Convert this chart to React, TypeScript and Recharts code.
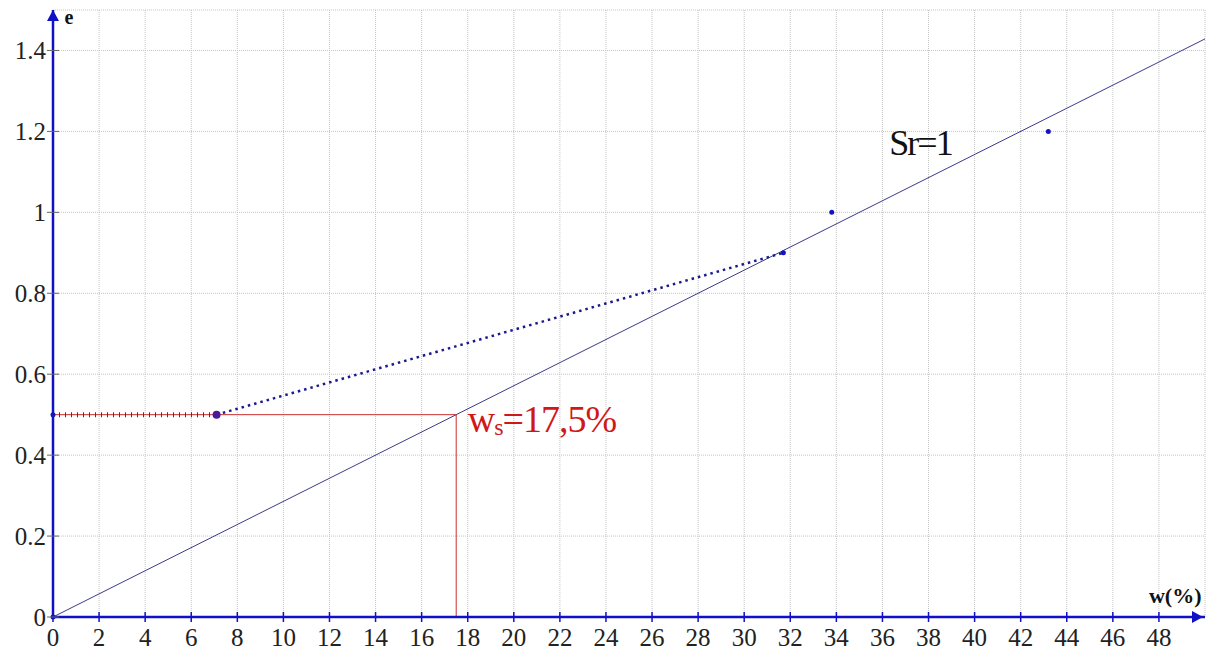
import React from "react";
import {
  ComposedChart,
  XAxis,
  YAxis,
  CartesianGrid,
  Line,
  Scatter,
  ReferenceDot,
} from "recharts";

// axis ticks
const xTicks = [0, 2, 4, 6, 8, 10, 12, 14, 16, 18, 20, 22, 24, 26, 28, 30, 32, 34, 36, 38, 40, 42, 44, 46, 48];
const yTicks = [0, 0.2, 0.4, 0.6, 0.8, 1, 1.2, 1.4];
const yTickLabels = ["0", "0.2", "0.4", "0.6", "0.8", "1", "1.2", "1.4"];

// saturation line Sr = 1
const saturationLine = [
  { x: 0, y: 0 },
  { x: 50, y: 1.4286 },
];

// dotted shrinkage curve
const shrinkCurve = [
  { x: 7.1, y: 0.5 },
  { x: 31.7, y: 0.9 },
];

// dotted part of the e = 0.5 level
const lowLevel = [
  { x: 0, y: 0.5 },
  { x: 7.1, y: 0.5 },
];

// red construction lines for ws
const wsHorizontal = [
  { x: 0, y: 0.5 },
  { x: 17.5, y: 0.5 },
];
const wsVertical = [
  { x: 17.5, y: 0.5 },
  { x: 17.5, y: 0 },
];

// measured points
const measured = [
  { x: 0, y: 0 },
  { x: 0, y: 0.5 },
  { x: 31.7, y: 0.9 },
  { x: 33.8, y: 1.0 },
  { x: 43.2, y: 1.2 },
];
const limitPoint = [{ x: 7.1, y: 0.5 }];

const arrowUp = [{ x: 0, y: 1.5 }];
const arrowRight = [{ x: 50, y: 0 }];

const serif = "'Liberation Serif', 'DejaVu Serif', serif";
const axisBlue = "#1010c8";

const XTick = (props: any) => {
  const { x, y, payload } = props;
  return (
    <g>
      <line x1={x} x2={x} y1={y - 5} y2={y + 5} stroke={axisBlue} strokeWidth={1.5} />
      <text x={x} y={y + 29} textAnchor="middle" fontFamily={serif} fontSize={25} fill="#222">
        {payload.value}
      </text>
    </g>
  );
};

const YTick = (props: any) => {
  const { x, y, payload, index } = props;
  return (
    <g>
      <line x1={x - 6} x2={x + 6} y1={y} y2={y} stroke="#666" strokeWidth={1} />
      <text x={x - 7} y={y + 9} textAnchor="end" fontFamily={serif} fontSize={25} fill="#222">
        {yTickLabels[index] ?? payload.value}
      </text>
    </g>
  );
};

const dot = (color: string, r: number) => (props: any) =>
  <circle cx={props.cx} cy={props.cy} r={r} fill={color} />;

const upTriangle = (props: any) => {
  const { cx, cy } = props;
  return <polygon points={`${cx},${cy} ${cx - 6},${cy + 11} ${cx + 6},${cy + 11}`} fill={axisBlue} />;
};

const rightTriangle = (props: any) => {
  const { cx, cy } = props;
  return <polygon points={`${cx - 2},${cy} ${cx - 13},${cy - 6} ${cx - 13},${cy + 6}`} fill={axisBlue} />;
};

export default function App() {
  return (
    <div style={{ position: "absolute", left: 0, top: 0, background: "#fff" }}>
      <ComposedChart
        width={1206}
        height={653}
        margin={{ top: 10, right: 1, left: 0, bottom: 0 }}
      >
        <CartesianGrid stroke="#c4c4c4" strokeDasharray="1 1" />
        <XAxis
          type="number"
          dataKey="x"
          domain={[0, 50]}
          ticks={xTicks}
          interval={0}
          height={36}
          tickSize={0}
          tickMargin={0}
          tickLine={false}
          tick={<XTick />}
          axisLine={{ stroke: axisBlue, strokeWidth: 2.5 }}
        />
        <YAxis
          type="number"
          dataKey="y"
          domain={[0, 1.5]}
          ticks={yTicks}
          interval={0}
          width={53}
          tickSize={0}
          tickMargin={0}
          tickLine={false}
          tick={<YTick />}
          axisLine={{ stroke: axisBlue, strokeWidth: 2.5 }}
        />
        <Line data={saturationLine} dataKey="y" type="linear" stroke="#3a3a8c" strokeWidth={1} dot={false} isAnimationActive={false} />
        <Line data={wsHorizontal} dataKey="y" type="linear" stroke="#c83030" strokeWidth={1} dot={false} isAnimationActive={false} />
        <Line data={wsVertical} dataKey="y" type="linear" stroke="#c83030" strokeWidth={1} dot={false} isAnimationActive={false} />
        <Line data={lowLevel} dataKey="y" type="linear" stroke="#6a2060" strokeWidth={5} strokeDasharray="1 5" dot={false} isAnimationActive={false} />
        <Line data={shrinkCurve} dataKey="y" type="linear" stroke="#1a1a90" strokeWidth={2.5} strokeDasharray="2.5 4" dot={false} isAnimationActive={false} />
        <Scatter data={measured} dataKey="y" shape={dot("#1515c0", 2.5)} isAnimationActive={false} />
        <Scatter data={limitPoint} dataKey="y" shape={dot("#4a1a9a", 4)} isAnimationActive={false} />
        <Scatter data={arrowUp} dataKey="y" shape={upTriangle} isAnimationActive={false} />
        <Scatter data={arrowRight} dataKey="y" shape={rightTriangle} isAnimationActive={false} />
        <ReferenceDot
          x={0.5}
          y={1.465}
          ifOverflow="visible"
          shape={(p: any) => (
            <text x={p.cx} y={p.cy} fontFamily={serif} fontWeight="bold" fontSize={20} fill="#111">
              e
            </text>
          )}
        />
        <ReferenceDot
          x={49.85}
          y={0.034}
          ifOverflow="visible"
          shape={(p: any) => (
            <text x={p.cx} y={p.cy} textAnchor="end" fontFamily={serif} fontWeight="bold" fontSize={22} fill="#111">
              w(%)
            </text>
          )}
        />
        <ReferenceDot
          x={36.3}
          y={1.142}
          ifOverflow="visible"
          shape={(p: any) => (
            <text x={p.cx} y={p.cy} fontFamily={serif} fontSize={36} letterSpacing={-2} fill="#111">
              Sr=1
            </text>
          )}
        />
        <ReferenceDot
          x={18.0}
          y={0.457}
          ifOverflow="visible"
          shape={(p: any) => (
            <text x={p.cx} y={p.cy} fontFamily={serif} fontSize={38} letterSpacing={-1} fill="#d01818">
              w<tspan fontSize={24} dy={3}>s</tspan>
              <tspan dy={-3}>=17,5%</tspan>
            </text>
          )}
        />
      </ComposedChart>
    </div>
  );
}
